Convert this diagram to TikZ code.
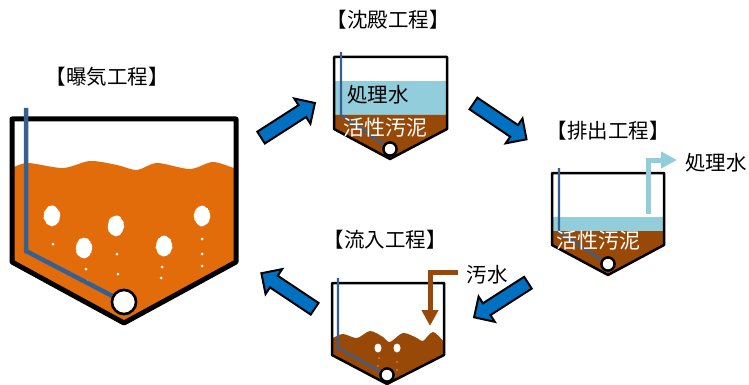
\documentclass[tikz,border=0pt]{standalone}
\usepackage{fontspec}
\setmainfont{Noto Sans CJK JP}
\usetikzlibrary{arrows.meta,decorations.pathmorphing}
\definecolor{sludge}{HTML}{984807}
\definecolor{aerated}{HTML}{E36C0A}
\definecolor{clearwater}{HTML}{92CDDC}
\definecolor{airpipe}{HTML}{376092}
\definecolor{flowblue}{HTML}{0070C0}
\tikzset{
  title/.style={font=\fontsize{20.5}{24}\selectfont,inner sep=0pt},
  lab/.style={font=\fontsize{20.5}{24}\selectfont,inner sep=0pt},
  sludgelab/.style={font=\fontsize{21}{24}\selectfont,text=white,inner sep=0pt},
  tank/.style={draw=black,line width=2.5pt,line join=round},
  bigtank/.style={draw=black,line width=5pt,line join=round},
  pipe/.style={draw=airpipe,line width=2.2pt},
  bigpipe/.style={draw=airpipe,line width=4.5pt},
  blower/.style={draw=black,fill=white,line width=2.3pt},
  bigblower/.style={draw=black,fill=white,line width=2.5pt},
  bubble/.style={fill=white,decorate,decoration={random steps,segment length=1.5pt,amplitude=.5pt}},
  flowarrow/.pic={\draw[fill=flowblue,draw=black,line width=2pt,line join=miter]
    (-32,-7) -- (17,-7) -- (17,-15) -- (32,0) -- (17,15) -- (17,7) -- (-32,7) -- cycle;},
}
\begin{document}
\begin{tikzpicture}[x=1pt,y=-1pt]
\useasboundingbox (0,0) rectangle (749,385);
%aeration
\fill[aerated] (12,262) -- plot[smooth] coordinates {(12,168) (28,163) (63,168) (90,161) (117,165) (137,170) (157,163) (190,169) (213,162) (236,169)} -- (236,262) -- (124,323) -- cycle;
\foreach \x/\y in {52/216,116/226,84/248,164/246,202/216}
  \fill[bubble] (\x,\y) ellipse (8 and 10);
\foreach \x/\y in {53/244,86/269,87/281,117/254,118/274,162/267,161/278,202/239,202/254,202/266}
  \fill[white] (\x,\y) circle (1.5);
\draw[bigtank] (12,119) -- (236,119) -- (236,262) -- (124,323) -- (12,262) -- cycle;
\node[bigblower,circle,minimum size=24pt,inner sep=0pt] (blowerA) at (124,302) {};
\coordinate (pipeA) at (26,108);
\draw[bigpipe] (pipeA) -- (26,251) -- (blowerA);
\node[bigblower,circle,minimum size=24pt,inner sep=0pt] at (blowerA) {};
\node[title] (titleA) at (107,77) {【曝気工程】};
%settling
\fill[clearwater] (334,81) rectangle (447,115);
\fill[sludge] (334,115) -- (447,115) -- (447,129) -- (390,159) -- (334,129) -- cycle;
\draw[tank] (334,57) -- (447,57) -- (447,129) -- (390,159) -- (334,129) -- cycle;
\node[blower,circle,minimum size=13pt,inner sep=0pt] (blowerB) at (390,149) {};
\coordinate (pipeB) at (341,52);
\draw[pipe] (pipeB) -- (341,115) -- (blowerB);
\node[blower,circle,minimum size=13pt,inner sep=0pt] at (blowerB) {};
\node[lab] (waterB) at (378,95) {処理水};
\node[sludgelab] (sludgeB) at (385,128) {活性汚泥};
\node[title] (titleB) at (388,20) {【沈殿工程】};
%discharge
\fill[clearwater] (552,217) rectangle (664,231);
\fill[sludge] (552,231) -- (664,231) -- (664,245) -- (608,275) -- (552,245) -- cycle;
\draw[tank] (552,173) -- (664,173) -- (664,245) -- (608,275) -- (552,245) -- cycle;
\node[blower,circle,minimum size=13pt,inner sep=0pt] (blowerC) at (608,264) {};
\coordinate (pipeC) at (559,168);
\draw[pipe] (pipeC) -- (559,232) -- (blowerC);
\node[blower,circle,minimum size=13pt,inner sep=0pt] at (blowerC) {};
\node[sludgelab] (sludgeC) at (598,241) {活性汚泥};
\node[lab] (waterC) at (716,163) {処理水};
\coordinate (outC) at (648,214);
\coordinate (tipC) at (677,160);
\draw[clearwater,line width=5pt,-{Triangle[length=16pt,width=16pt]}] (outC) -- (648,160) -- (tipC);
\node[title] (titleC) at (608,131) {【排出工程】};
%inflow
\fill[sludge] (332,355) -- plot[smooth] coordinates {(333,338) (343,334) (357,338) (370,331) (383,337) (390,342) (403,333) (417,338) (423,341) (433,332) (444,342)} -- (444,355) -- (387,384) -- cycle;
\foreach \x/\y in {378/348,397/348}
  \fill[white] (\x,\y) ellipse (3.5 and 4.5);
\foreach \x/\y in {379/358,378/366,397/362,397/370}
  \fill[white] (\x,\y) circle (.6);
\draw[tank] (332,283) -- (444,283) -- (444,355) -- (387,384) -- (332,355) -- cycle;
\node[blower,circle,minimum size=13pt,inner sep=0pt] (blowerD) at (387,375) {};
\coordinate (pipeD) at (338,278);
\draw[pipe] (pipeD) -- (338,348) -- (blowerD);
\node[blower,circle,minimum size=13pt,inner sep=0pt] at (blowerD) {};
\node[lab] (wasteD) at (487,275) {汚水};
\coordinate (inD) at (458,272);
\coordinate (tipD) at (430,326);
\draw[sludge,line width=5pt,-{Triangle[length=16pt,width=16pt]}] (inD) -- (430,272) -- (tipD);
\node[title] (titleD) at (385,240) {【流入工程】};
%cycle arrows
\pic[rotate=32.7] at (288,120.3) {flowarrow};
\pic[rotate=-34] at (500,121.4) {flowarrow};
\pic[rotate=212.7] at (501,300) {flowarrow};
\pic[rotate=146.3] at (288,291) {flowarrow};
\end{tikzpicture}
\end{document}
